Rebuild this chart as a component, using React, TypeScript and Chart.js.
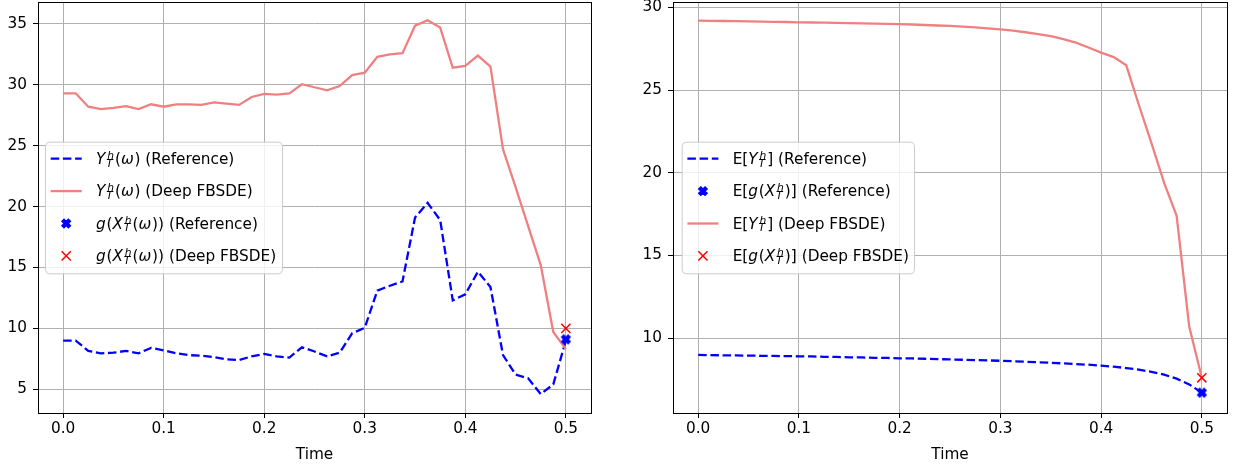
import React, { useEffect, useRef } from 'react';
import { Chart, registerables } from 'chart.js';

Chart.register(...registerables);

// ---------------- data ----------------
const timeGrid = [
  0, 0.0125, 0.025, 0.0375, 0.05, 0.0625, 0.075, 0.0875, 0.1, 0.1125,
  0.125, 0.1375, 0.15, 0.1625, 0.175, 0.1875, 0.2, 0.2125, 0.225, 0.2375,
  0.25, 0.2625, 0.275, 0.2875, 0.3, 0.3125, 0.325, 0.3375, 0.35, 0.3625,
  0.375, 0.3875, 0.4, 0.4125, 0.425, 0.4375, 0.45, 0.4625, 0.475, 0.4875, 0.5,
];

// single path (left panel)
const pathRefY = [
  9.0, 9.0, 8.15, 7.95, 8.0, 8.15, 7.95, 8.4, 8.2, 7.95,
  7.8, 7.75, 7.65, 7.45, 7.4, 7.7, 7.9, 7.7, 7.6, 8.45,
  8.1, 7.7, 8.0, 9.6, 10.05, 13.1, 13.5, 13.85, 19.1, 20.3,
  18.9, 12.3, 12.8, 14.65, 13.4, 7.8, 6.2, 5.9, 4.6, 5.4, 9.0,
];
const pathDeepY = [
  29.3, 29.3, 28.2, 28.0, 28.1, 28.25, 28.0, 28.4, 28.2, 28.4,
  28.4, 28.35, 28.55, 28.45, 28.35, 29.0, 29.25, 29.2, 29.3, 30.05,
  29.8, 29.55, 29.9, 30.8, 31.0, 32.3, 32.5, 32.6, 34.85, 35.3,
  34.7, 31.4, 31.55, 32.4, 31.5, 24.7, 21.6, 18.4, 15.2, 9.7, 8.3,
];
const pathRefG = 9.1;
const pathDeepG = 10.0;

// expectations (right panel)
const meanRefY = [
  8.98, 8.97, 8.96, 8.95, 8.94, 8.93, 8.92, 8.91, 8.9, 8.89,
  8.87, 8.86, 8.84, 8.83, 8.81, 8.8, 8.78, 8.77, 8.75, 8.73,
  8.71, 8.69, 8.67, 8.65, 8.63, 8.6, 8.57, 8.54, 8.51, 8.47,
  8.43, 8.39, 8.34, 8.27, 8.19, 8.09, 7.96, 7.79, 7.55, 7.2, 6.7,
];
const meanDeepY = [
  29.2, 29.19, 29.18, 29.17, 29.16, 29.14, 29.13, 29.12, 29.1, 29.09,
  29.08, 29.07, 29.05, 29.04, 29.02, 29.01, 28.99, 28.97, 28.94, 28.91,
  28.88, 28.84, 28.79, 28.74, 28.68, 28.6, 28.5, 28.39, 28.26, 28.08,
  27.87, 27.58, 27.27, 27.0, 26.5, 24.1, 21.8, 19.4, 17.4, 10.7, 7.6,
];
const meanRefG = 6.7;
const meanDeepG = 7.6;

const xTickValues = [0, 0.1, 0.2, 0.3, 0.4, 0.5];
const leftYTicks = [5, 10, 15, 20, 25, 30, 35];
const rightYTicks = [10, 15, 20, 25, 30];

// ---------------- styles ----------------
const FONT = '"DejaVu Sans", sans-serif';
const FS = 15.3;
const BLUE = '#0000ff';
const PINK = '#f08080';
const RED = '#ff0000';
const DASH = [8.5, 3.7];
const LW = 2.3;

type Part = { s: string; i?: boolean } | { sup: string; sub: string };

const supsub: Part = { sup: 'h', sub: 'T' };
const leftLabels: Part[][] = [
  [{ s: 'Y', i: true }, supsub, { s: '(' }, { s: 'ω', i: true }, { s: ')' }, { s: ' (Reference)' }],
  [{ s: 'Y', i: true }, supsub, { s: '(' }, { s: 'ω', i: true }, { s: ')' }, { s: ' (Deep FBSDE)' }],
  [{ s: 'g', i: true }, { s: '(' }, { s: 'X', i: true }, supsub, { s: '(' }, { s: 'ω', i: true }, { s: '))' }, { s: ' (Reference)' }],
  [{ s: 'g', i: true }, { s: '(' }, { s: 'X', i: true }, supsub, { s: '(' }, { s: 'ω', i: true }, { s: '))' }, { s: ' (Deep FBSDE)' }],
];
const rightLabels: Part[][] = [
  [{ s: 'E[' }, { s: 'Y', i: true }, supsub, { s: ']' }, { s: ' (Reference)' }],
  [{ s: 'E[' }, { s: 'g', i: true }, { s: '(' }, { s: 'X', i: true }, supsub, { s: ')]' }, { s: ' (Reference)' }],
  [{ s: 'E[' }, { s: 'Y', i: true }, supsub, { s: ']' }, { s: ' (Deep FBSDE)' }],
  [{ s: 'E[' }, { s: 'g', i: true }, { s: '(' }, { s: 'X', i: true }, supsub, { s: ')]' }, { s: ' (Deep FBSDE)' }],
];

const X_VERTS = [
  [-0.25, -0.5], [0, -0.25], [0.25, -0.5], [0.5, -0.25], [0.25, 0], [0.5, 0.25],
  [0.25, 0.5], [0, 0.25], [-0.25, 0.5], [-0.5, 0.25], [-0.25, 0], [-0.5, -0.25],
];

function pathFilledX(ctx: CanvasRenderingContext2D, cx: number, cy: number, size: number) {
  ctx.beginPath();
  X_VERTS.forEach(([vx, vy], k) => {
    const px = cx + vx * size;
    const py = cy + vy * size;
    if (k === 0) ctx.moveTo(px, py);
    else ctx.lineTo(px, py);
  });
  ctx.closePath();
}

function drawFilledX(ctx: CanvasRenderingContext2D, cx: number, cy: number, color: string) {
  ctx.save();
  ctx.fillStyle = color;
  ctx.strokeStyle = color;
  ctx.lineWidth = 1.3;
  ctx.lineJoin = 'miter';
  pathFilledX(ctx, cx, cy, 8.6);
  ctx.fill();
  ctx.stroke();
  ctx.restore();
}

function drawThinX(ctx: CanvasRenderingContext2D, cx: number, cy: number, color: string) {
  const h = 4.6;
  ctx.save();
  ctx.strokeStyle = color;
  ctx.lineWidth = 1.5;
  ctx.beginPath();
  ctx.moveTo(cx - h, cy - h);
  ctx.lineTo(cx + h, cy + h);
  ctx.moveTo(cx - h, cy + h);
  ctx.lineTo(cx + h, cy - h);
  ctx.stroke();
  ctx.restore();
}

function makeXMarkerCanvas(color: string) {
  const c = document.createElement('canvas');
  c.width = 14;
  c.height = 14;
  const ctx = c.getContext('2d')!;
  drawFilledX(ctx, 7, 7, color);
  return c;
}

function drawRich(ctx: CanvasRenderingContext2D, parts: Part[], x0: number, baseline: number) {
  let x = x0;
  ctx.fillStyle = '#000';
  ctx.textBaseline = 'alphabetic';
  ctx.textAlign = 'left';
  parts.forEach((p, idx) => {
    if ('s' in p) {
      ctx.font = `${p.i ? 'italic ' : ''}${FS}px ${FONT}`;
      ctx.fillText(p.s, x, baseline);
      x += ctx.measureText(p.s).width;
      if (p.i && idx < parts.length - 1) x += 0.8;
    } else {
      const small = FS * 0.7;
      ctx.font = `italic ${small}px ${FONT}`;
      const w1 = ctx.measureText(p.sup).width;
      const w2 = ctx.measureText(p.sub).width;
      ctx.fillText(p.sup, x + 1.0, baseline - 4.8);
      ctx.fillText(p.sub, x, baseline + 2.9);
      x += Math.max(w1 + 1.0, w2) + 1.0;
    }
  });
}

type Row = { kind: 'line' | 'X' | 'x'; color: string; dash?: number[]; parts: Part[] };

function legendPlugin(box: { x: number; y: number; w: number; h: number }, rows: Row[]) {
  return {
    id: 'richLegend',
    afterDraw(chart: any) {
      const ctx: CanvasRenderingContext2D = chart.ctx;
      ctx.save();
      ctx.beginPath();
      (ctx as any).roundRect(box.x + 0.5, box.y + 0.5, box.w, box.h, 4);
      ctx.fillStyle = 'rgba(255,255,255,0.8)';
      ctx.fill();
      ctx.strokeStyle = '#cccccc';
      ctx.lineWidth = 1;
      ctx.stroke();
      const hx0 = box.x + 5.7;
      const hx1 = hx0 + 31;
      const tx = box.x + 51;
      rows.forEach((r, k) => {
        const cy = box.y + 17 + k * 32.4;
        if (r.kind === 'line') {
          ctx.save();
          ctx.strokeStyle = r.color;
          ctx.lineWidth = LW;
          ctx.setLineDash(r.dash || []);
          ctx.beginPath();
          ctx.moveTo(hx0, cy);
          ctx.lineTo(hx1, cy);
          ctx.stroke();
          ctx.restore();
        } else if (r.kind === 'X') {
          drawFilledX(ctx, (hx0 + hx1) / 2, cy, r.color);
        } else {
          drawThinX(ctx, (hx0 + hx1) / 2, cy, r.color);
        }
        drawRich(ctx, r.parts, tx, cy + 5);
      });
      ctx.restore();
    },
  };
}

const spinePlugin = {
  id: 'spines',
  afterDatasetsDraw(chart: any) {
    const { left, top, right, bottom } = chart.chartArea;
    const ctx: CanvasRenderingContext2D = chart.ctx;
    ctx.save();
    ctx.strokeStyle = '#000';
    ctx.lineWidth = 1;
    ctx.strokeRect(Math.round(left) + 0.5, Math.round(top) + 0.5, Math.round(right - left), Math.round(bottom - top));
    ctx.restore();
  },
};

function buildConfig(opts: {
  refY: number[];
  deepY: number[];
  refG: number;
  deepG: number;
  yMin: number;
  yMax: number;
  yTicks: number[];
  yAxisWidth: number;
  padRight: number;
  legendBox: { x: number; y: number; w: number; h: number };
  rows: Row[];
  order: 'left' | 'right';
}) {
  const xMarker = makeXMarkerCanvas(BLUE);
  const lineRef = {
    label: 'ref',
    data: timeGrid.map((t, i) => ({ x: t, y: opts.refY[i] })),
    borderColor: BLUE,
    borderWidth: LW,
    borderDash: DASH,
    pointRadius: 0,
    fill: false,
    tension: 0,
    order: 4,
  };
  const lineDeep = {
    label: 'deep',
    data: timeGrid.map((t, i) => ({ x: t, y: opts.deepY[i] })),
    borderColor: PINK,
    borderWidth: LW,
    pointRadius: 0,
    fill: false,
    tension: 0,
    order: 3,
  };
  const markRef = {
    label: 'refG',
    data: [{ x: 0.5, y: opts.refG }],
    showLine: false,
    pointStyle: xMarker,
    pointRadius: 6,
    borderColor: BLUE,
    backgroundColor: BLUE,
    order: 2,
  };
  const markDeep = {
    label: 'deepG',
    data: [{ x: 0.5, y: opts.deepG }],
    showLine: false,
    pointStyle: 'crossRot',
    pointRadius: 6.5,
    pointBorderColor: RED,
    pointBorderWidth: 1.5,
    borderColor: RED,
    backgroundColor: RED,
    order: 1,
  };
  const datasets =
    opts.order === 'left' ? [lineRef, lineDeep, markRef, markDeep] : [lineRef, markRef, lineDeep, markDeep];

  const tickFont = { family: FONT, size: FS };
  return {
    type: 'line' as const,
    data: { datasets },
    options: {
      animation: false,
      responsive: false,
      maintainAspectRatio: false,
      layout: { autoPadding: false, padding: { top: 2, right: opts.padRight, bottom: 0, left: 0 } },
      plugins: { legend: { display: false }, tooltip: { enabled: false } },
      scales: {
        x: {
          type: 'linear',
          min: -0.025,
          max: 0.525,
          afterBuildTicks: (s: any) => {
            s.ticks = xTickValues.map((v) => ({ value: v }));
          },
          afterFit: (s: any) => {
            s.height = 57;
            s.paddingLeft = 0;
            s.paddingRight = 0;
          },
          ticks: {
            callback: (v: any) => Number(v).toFixed(1),
            color: '#000',
            font: tickFont,
            padding: 2,
            maxRotation: 0,
            autoSkip: false,
          },
          grid: { color: '#b0b0b0', lineWidth: 1, tickColor: '#000', tickLength: 5, tickWidth: 1 },
          border: { display: false },
          title: { display: true, text: 'Time', color: '#000', font: tickFont, padding: { top: 0, bottom: 6 } },
        },
        y: {
          type: 'linear',
          min: opts.yMin,
          max: opts.yMax,
          afterBuildTicks: (s: any) => {
            s.ticks = opts.yTicks.map((v) => ({ value: v }));
          },
          afterFit: (s: any) => {
            s.width = opts.yAxisWidth;
            s.paddingTop = 0;
            s.paddingBottom = 0;
          },
          ticks: {
            callback: (v: any) => String(v),
            color: '#000',
            font: tickFont,
            padding: 6,
            autoSkip: false,
          },
          grid: { color: '#b0b0b0', lineWidth: 1, tickColor: '#000', tickLength: 5, tickWidth: 1 },
          border: { display: false },
        },
      },
    },
    plugins: [spinePlugin, legendPlugin(opts.legendBox, opts.rows)],
  };
}

export default function App() {
  const leftRef = useRef<HTMLCanvasElement | null>(null);
  const rightRef = useRef<HTMLCanvasElement | null>(null);

  useEffect(() => {
    const left = new Chart(
      leftRef.current!,
      buildConfig({
        refY: pathRefY,
        deepY: pathDeepY,
        refG: pathRefG,
        deepG: pathDeepG,
        yMin: 3.05,
        yMax: 36.8,
        yTicks: leftYTicks,
        yAxisWidth: 38,
        padRight: 26,
        legendBox: { x: 45, y: 141.7, w: 237, h: 131.6 },
        rows: [
          { kind: 'line', color: BLUE, dash: DASH, parts: leftLabels[0] },
          { kind: 'line', color: PINK, parts: leftLabels[1] },
          { kind: 'X', color: BLUE, parts: leftLabels[2] },
          { kind: 'x', color: RED, parts: leftLabels[3] },
        ],
        order: 'left',
      }) as any
    );
    const right = new Chart(
      rightRef.current!,
      buildConfig({
        refY: meanRefY,
        deepY: meanDeepY,
        refG: meanRefG,
        deepG: meanDeepG,
        yMin: 5.47,
        yMax: 30.33,
        yTicks: rightYTicks,
        yAxisWidth: 56,
        padRight: 7,
        legendBox: { x: 64.7, y: 141.7, w: 232.3, h: 131.6 },
        rows: [
          { kind: 'line', color: BLUE, dash: DASH, parts: rightLabels[0] },
          { kind: 'X', color: BLUE, parts: rightLabels[1] },
          { kind: 'line', color: PINK, parts: rightLabels[2] },
          { kind: 'x', color: RED, parts: rightLabels[3] },
        ],
        order: 'right',
      }) as any
    );
    return () => {
      left.destroy();
      right.destroy();
    };
  }, []);

  return (
    <div
      style={{
        position: 'absolute',
        left: 0,
        top: 0,
        width: 1234,
        height: 470,
        display: 'flex',
        background: '#fff',
      }}
    >
      <canvas ref={leftRef} width={617} height={470} style={{ display: 'block', width: 617, height: 470 }} />
      <canvas ref={rightRef} width={617} height={470} style={{ display: 'block', width: 617, height: 470 }} />
    </div>
  );
}
